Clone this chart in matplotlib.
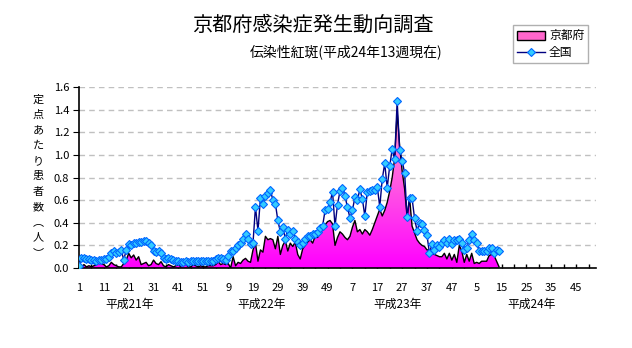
import matplotlib.pyplot as plt
import numpy as np
from matplotlib.colors import LinearSegmentedColormap
from matplotlib.lines import Line2D
from matplotlib.patches import Patch
from matplotlib.transforms import blended_transform_factory

plt.rcParams['font.family'] = ['Noto Sans CJK JP', 'DejaVu Sans']

# 京都府 (定点あたり患者数) 平成21年〜平成24年13週
kyoto_h21 = [0.00, 0.01, 0.03, 0.01, 0.02, 0.01, 0.02, 0.03, 0.045, 0.04,
             0.03, 0.01, 0.02, 0.05, 0.03, 0.02, 0.01, 0.01, 0.04, 0.07,
             0.13, 0.09, 0.115, 0.07, 0.10, 0.03, 0.04, 0.05, 0.02, 0.03,
             0.07, 0.04, 0.03, 0.056, 0.02, 0.01, 0.03, 0.02, 0.01, 0.02,
             0.03, 0.01, 0.04, 0.03, 0.01, 0.01, 0.03, 0.02, 0.01, 0.02,
             0.01, 0.01, 0.02]
kyoto_h22 = [0.02, 0.02, 0.03, 0.055, 0.03, 0.04, 0.03, 0.04, 0.00, 0.10,
             0.02, 0.05, 0.04, 0.07, 0.085, 0.06, 0.05, 0.16, 0.22, 0.06,
             0.16, 0.14, 0.28, 0.25, 0.26, 0.25, 0.17, 0.28, 0.12, 0.20,
             0.24, 0.15, 0.22, 0.19, 0.23, 0.12, 0.08, 0.17, 0.20, 0.23,
             0.25, 0.22, 0.28, 0.27, 0.31, 0.34, 0.38, 0.41, 0.42, 0.39,
             0.20, 0.27]
kyoto_h23 = [0.32, 0.30, 0.27, 0.25, 0.28, 0.36, 0.42, 0.32, 0.34, 0.30,
             0.34, 0.32, 0.29, 0.34, 0.40, 0.46, 0.52, 0.46, 0.51, 0.58,
             0.68, 0.80, 0.97, 1.38, 1.08, 0.86, 0.70, 0.45, 0.62, 0.37,
             0.31, 0.25, 0.22, 0.20, 0.19, 0.16, 0.16, 0.13, 0.12, 0.11,
             0.10, 0.10, 0.13, 0.08, 0.13, 0.07, 0.12, 0.05, 0.20, 0.15,
             0.05, 0.12]
kyoto_h24 = [0.06, 0.13, 0.04, 0.05, 0.04, 0.06, 0.06, 0.06, 0.11, 0.12,
             0.11, 0.06, 0.01]

# 全国
zenkoku_h21 = [0.02, 0.09, 0.09, 0.08, 0.08, 0.07, 0.07, 0.06, 0.07, 0.07,
               0.08, 0.08, 0.10, 0.13, 0.15, 0.13, 0.14, 0.16, 0.07, 0.16,
               0.21, 0.20, 0.22, 0.22, 0.23, 0.23, 0.24, 0.24, 0.22, 0.20,
               0.15, 0.14, 0.15, 0.13, 0.09, 0.08, 0.09, 0.08, 0.07, 0.06,
               0.06, 0.05, 0.05, 0.06, 0.05, 0.06, 0.06, 0.06, 0.06, 0.06,
               0.06, 0.06, 0.06]
zenkoku_h22 = [0.06, 0.06, 0.08, 0.09, 0.09, 0.08, 0.07, 0.11, 0.15, 0.15,
               0.18, 0.20, 0.22, 0.26, 0.30, 0.26, 0.21, 0.22, 0.54, 0.33,
               0.62, 0.57, 0.64, 0.66, 0.69, 0.60, 0.57, 0.42, 0.32, 0.365,
               0.26, 0.34, 0.30, 0.33, 0.26, 0.23, 0.20, 0.22, 0.26, 0.28,
               0.28, 0.30, 0.30, 0.32, 0.35, 0.37, 0.51, 0.52, 0.58, 0.675,
               0.37, 0.56]
zenkoku_h23 = [0.68, 0.71, 0.64, 0.535, 0.445, 0.51, 0.625, 0.60, 0.695, 0.61,
               0.46, 0.675, 0.685, 0.69, 0.69, 0.72, 0.54, 0.785, 0.925, 0.71,
               0.90, 1.05, 0.96, 1.48, 1.045, 0.95, 0.84, 0.45, 0.615, 0.615,
               0.44, 0.33, 0.40, 0.39, 0.34, 0.29, 0.13, 0.21, 0.16, 0.20,
               0.19, 0.22, 0.25, 0.22, 0.26, 0.21, 0.25, 0.25, 0.26, 0.22,
               0.16, 0.18]
zenkoku_h24 = [0.25, 0.30, 0.25, 0.22, 0.15, 0.15, 0.15, 0.15, 0.175, 0.175,
               0.135, 0.16, 0.15]

weeks_per_year = [53, 52, 52, 52]
tick_labels = ["1", "11", "21", "31", "41", "51", "9", "19", "29", "39", "49",
               "7", "17", "27", "37", "47", "5", "15", "25", "35", "45"]
year_labels = ["平成21年", "平成22年", "平成23年", "平成24年"]
year_label_pos = [21.3, 74.6, 129.0, 182.9]
ylabel_chars = ["定", "点", "あ", "た", "り", "患", "者", "数", "︵", "人", "︶"]

kyoto = np.array(kyoto_h21 + kyoto_h22 + kyoto_h23 + kyoto_h24)
zenkoku = np.array(zenkoku_h21 + zenkoku_h22 + zenkoku_h23 + zenkoku_h24)
weeks = np.arange(1, len(kyoto) + 1)
n_weeks = sum(weeks_per_year)

W, H = 632, 348
fig = plt.figure(figsize=(W / 100, H / 100), dpi=100)
ax = fig.add_axes([79 / W, 1 - 268 / H, (596 - 79) / W, (268 - 87) / H])

# 京都府: グラデーション塗りの面
poly = ax.fill_between(weeks, kyoto, 0, facecolor='none', edgecolor='none')
cmap = LinearSegmentedColormap.from_list('pink', ['#ff00ff', '#ff60e0', '#ffa8d0'])
grad = np.linspace(0, 1, 256).reshape(-1, 1)
img = ax.imshow(grad, extent=[1, n_weeks, 0, 1.6], origin='lower',
                aspect='auto', cmap=cmap, zorder=2)
img.set_clip_path(poly.get_paths()[0], transform=ax.transData)
ax.plot(weeks, kyoto, color='black', lw=1, zorder=3)

# 全国: 折れ線
ax.plot(weeks, zenkoku, color='#000080', lw=1, marker='D', ms=4.5,
        mfc='#33ccff', mec='#0066ff', mew=0.8, zorder=4)

ax.set_xlim(1, n_weeks)
ax.set_ylim(0, 1.6)
ax.set_yticks(np.arange(0, 1.61, 0.2))
ax.set_yticklabels([f"{v:.1f}" for v in np.arange(0, 1.61, 0.2)])
ax.set_xticks(np.arange(1, n_weeks + 1, 10))
ax.set_xticklabels(tick_labels)
ax.set_xticks(np.arange(6, n_weeks + 1, 10), minor=True)
ax.tick_params(axis='x', which='both', direction='in', length=3, pad=11,
               labelsize=8, width=1)
ax.tick_params(axis='y', direction='out', length=4, pad=3, labelsize=8)
ax.yaxis.grid(True, ls=(0, (4, 3)), color='#c0c0c0', lw=1)
ax.set_axisbelow(True)
for s in ['top', 'right']:
    ax.spines[s].set_visible(False)
for s in ['left', 'bottom']:
    ax.spines[s].set_linewidth(1.2)

trans = blended_transform_factory(ax.transData, ax.transAxes)
for lab, pos in zip(year_labels, year_label_pos):
    ax.text(pos, -0.199, lab, transform=trans, ha='center', va='center', fontsize=8.5)

# 縦書きの軸ラベル
for i, ch in enumerate(ylabel_chars):
    y = 100 + i * (253 - 100) / (len(ylabel_chars) - 1)
    fig.text(38 / W, 1 - y / H, ch, ha='center', va='center', fontsize=8)

fig.text(313 / W, 1 - 25 / H, "京都府感染症発生動向調査", ha='center', va='center',
         fontsize=14.5)
fig.text(346 / W, 1 - 52 / H, "伝染性紅斑(平成24年13週現在)", ha='center',
         va='center', fontsize=10)

handles = [Patch(facecolor='#ff66cc', edgecolor='black', lw=1),
           Line2D([], [], color='#000080', lw=1, marker='D', ms=4.5,
                  mfc='#33ccff', mec='#0066ff', mew=0.8)]
leg = fig.legend(handles, ["京都府", "全国"], loc='upper left',
                 bbox_to_anchor=(513 / W, 1 - 25 / H), fontsize=8.5,
                 fancybox=False, edgecolor='#b0b0b0', framealpha=1,
                 borderpad=0.35, handlelength=2.4, handleheight=0.8,
                 handletextpad=0.3, labelspacing=0.35, borderaxespad=0)
leg.get_frame().set_linewidth(1)

fig.savefig("out.png", dpi=100)
